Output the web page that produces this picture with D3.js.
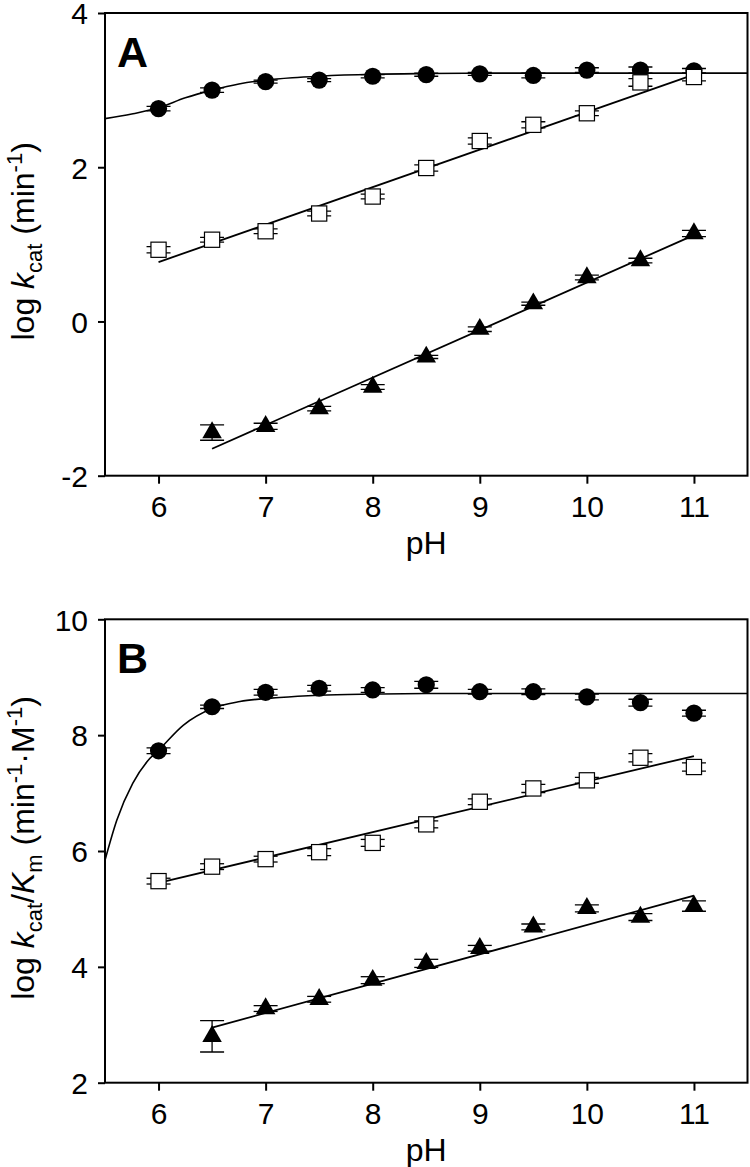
<!DOCTYPE html>
<html>
<head>
<meta charset="utf-8">
<script src="https://cdn.jsdelivr.net/npm/d3@7"></script>
<style>
  html, body { margin: 0; padding: 0; background: #fff; }
  svg { display: block; font-family: "Liberation Sans", Arial, sans-serif; }
</style>
</head>
<body>
<svg id="chart" width="750" height="1167"></svg>
<script>
// ---------- data ----------
const pHAll = [6, 6.5, 7, 7.5, 8, 8.5, 9, 9.5, 10, 10.5, 11];
const pHTri = [6.5, 7, 7.5, 8, 8.5, 9, 9.5, 10, 10.5, 11];
const xTicks = [6, 7, 8, 9, 10, 11];

// Panel A: log kcat
const aYTicks = [-2, 0, 2, 4];
const aCircle = [2.76, 3.00, 3.11, 3.13, 3.18, 3.20, 3.21, 3.19, 3.26, 3.26, 3.25];
const aCircleErr = [0.03, 0.03, 0.02, 0.02, 0.02, 0.02, 0.02, 0.03, 0.03, 0.04, 0.03];
const aSquare = [0.93, 1.06, 1.17, 1.40, 1.62, 1.99, 2.34, 2.55, 2.70, 3.10, 3.17];
const aSquareErr = [0.04, 0.03, 0.03, 0.03, 0.03, 0.04, 0.04, 0.04, 0.03, 0.05, 0.05];
const aTriangle = [-1.44, -1.36, -1.13, -0.85, -0.46, -0.10, 0.23, 0.57, 0.79, 1.14];
const aTriangleErr = [0.10, 0.04, 0.03, 0.03, 0.02, 0.03, 0.02, 0.03, 0.03, 0.04];
// fitted curves
const aCircleFitX = [5.5, 5.75, 6, 6.25, 6.5, 6.75, 7, 7.25, 7.5, 8, 8.5, 9, 11.5];
const aCircleFitY = [2.63, 2.69, 2.77, 2.90, 3.00, 3.08, 3.13, 3.16, 3.18, 3.205, 3.215, 3.22, 3.22];
const aSquareFitX = [6, 11];
const aSquareFitY = [0.77, 3.20];
const aTriangleFitX = [6.5, 11];
const aTriangleFitY = [-1.65, 1.12];

// Panel B: log kcat/Km
const bYTicks = [2, 4, 6, 8, 10];
const bCircle = [7.73, 8.49, 8.74, 8.81, 8.78, 8.87, 8.75, 8.75, 8.66, 8.56, 8.38];
const bCircleErr = [0.05, 0.03, 0.05, 0.05, 0.04, 0.06, 0.04, 0.05, 0.05, 0.06, 0.05];
const bSquare = [5.48, 5.73, 5.86, 5.98, 6.14, 6.46, 6.85, 7.08, 7.22, 7.61, 7.45];
const bSquareErr = [0.05, 0.05, 0.05, 0.06, 0.06, 0.06, 0.05, 0.07, 0.05, 0.07, 0.07];
const bTriangle = [2.80, 3.28, 3.44, 3.77, 4.06, 4.32, 4.69, 5.01, 4.86, 5.05];
const bTriangleErr = [0.27, 0.05, 0.05, 0.06, 0.07, 0.05, 0.05, 0.06, 0.06, 0.09];
const bCircleFitX = [5.5, 5.61, 5.76, 5.92, 6, 6.23, 6.5, 6.76, 7.13, 7.5, 8, 8.5, 11.5];
const bCircleFitY = [5.84, 6.53, 7.17, 7.60, 7.74, 8.17, 8.46, 8.58, 8.65, 8.69, 8.71, 8.72, 8.72];
const bSquareFitX = [6, 11];
const bSquareFitY = [5.45, 7.64];
const bTriangleFitX = [6.5, 11];
const bTriangleFitY = [2.95, 5.23];

// ---------- drawing ----------
const svg = d3.select("#chart");
const TICKFONT = 30;
const TITLEFONT = 32;
const SMALL = 22;
const left = 105, right = 747.5;
const x = d3.scaleLinear().domain([5.5, 11.5]).range([left, right]);

function zip(xs, ys, es) { return xs.map((v, i) => ({x: v, y: ys[i], e: es ? es[i] : 0})); }

function panel(cfg) {
  const y = d3.scaleLinear().domain(cfg.yDomain).range([cfg.bottom, cfg.top]);
  const g = svg.append("g");
  const clipId = "clip" + cfg.letter;
  svg.append("clipPath").attr("id", clipId).append("rect")
    .attr("x", left).attr("y", cfg.top).attr("width", right - left).attr("height", cfg.bottom - cfg.top);

  // axes
  const fmt = d => String(d);
  const xAxis = d3.axisBottom(x).tickValues(xTicks).tickSize(8).tickPadding(12).tickFormat(fmt);
  const gx = g.append("g").attr("transform", `translate(0,${cfg.bottom})`).call(xAxis);
  const yAxis = d3.axisLeft(y).tickValues(cfg.yTicks).tickSize(7).tickPadding(10).tickFormat(fmt);
  const gy = g.append("g").attr("transform", `translate(${left},0)`).call(yAxis);
  [gx, gy].forEach(a => {
    a.select(".domain").remove();
    a.selectAll("line").attr("stroke", "#000").attr("stroke-width", 2);
    a.selectAll("text").attr("font-size", TICKFONT).attr("fill", "#000")
      .attr("font-family", '"Liberation Sans", Arial, sans-serif');
  });
  gy.selectAll("text").attr("dy", "0.36em");
  gx.selectAll("text").attr("dy", "0.72em");

  // frame
  g.append("rect").attr("x", left).attr("y", cfg.top)
    .attr("width", right - left).attr("height", cfg.bottom - cfg.top)
    .attr("fill", "none").attr("stroke", "#000").attr("stroke-width", 2);

  const plot = g.append("g").attr("clip-path", `url(#${clipId})`);

  // fit lines
  const lineGen = (curve) => d3.line().x(d => x(d.x)).y(d => y(d.y)).curve(curve);
  cfg.fits.forEach(f => {
    plot.append("path").datum(zip(f.xs, f.ys))
      .attr("d", lineGen(f.curve || d3.curveLinear))
      .attr("fill", "none").attr("stroke", "#000").attr("stroke-width", f.w || 1.8);
  });

  // error bars (behind markers)
  const capHalf = 12;
  cfg.series.forEach(s => {
    const pts = zip(s.xs, s.ys, s.es);
    const eb = plot.append("g").attr("stroke", "#000").attr("stroke-width", 1.3);
    pts.forEach(p => {
      const y1 = y(p.y + p.e), y2 = y(p.y - p.e);
      eb.append("line").attr("x1", x(p.x)).attr("x2", x(p.x)).attr("y1", y1).attr("y2", y2);
      eb.append("line").attr("x1", x(p.x) - capHalf).attr("x2", x(p.x) + capHalf).attr("y1", y1).attr("y2", y1);
      eb.append("line").attr("x1", x(p.x) - capHalf).attr("x2", x(p.x) + capHalf).attr("y1", y2).attr("y2", y2);
    });
  });

  // markers
  cfg.series.forEach(s => {
    const pts = zip(s.xs, s.ys, s.es);
    const mg = g.append("g");
    if (s.shape === "circle") {
      mg.selectAll("circle").data(pts).join("circle")
        .attr("cx", d => x(d.x)).attr("cy", d => y(d.y)).attr("r", 8.6).attr("fill", "#000");
    } else if (s.shape === "square") {
      mg.selectAll("rect").data(pts).join("rect")
        .attr("x", d => x(d.x) - 7.6).attr("y", d => y(d.y) - 7.6)
        .attr("width", 15.2).attr("height", 15.2)
        .attr("fill", "#fff").attr("stroke", "#000").attr("stroke-width", 1.2);
    } else {
      const tri = d3.symbol().type(d3.symbolTriangle).size(165);
      mg.selectAll("path").data(pts).join("path")
        .attr("transform", d => `translate(${x(d.x)},${y(d.y)})`)
        .attr("d", tri).attr("fill", "#000");
    }
  });

  // panel letter
  g.append("text").attr("x", 117).attr("y", cfg.top + 54)
    .attr("font-size", 43).attr("font-weight", "bold").attr("fill", "#000").text(cfg.letter);

  // x label
  g.append("text").attr("x", (left + right) / 2).attr("y", cfg.bottom + 78)
    .attr("text-anchor", "middle").attr("font-size", TITLEFONT).attr("fill", "#000").text("pH");

  // y label
  const yl = g.append("text")
    .attr("transform", `translate(34,${(cfg.top + cfg.bottom) / 2 - 3}) rotate(-90)`)
    .attr("text-anchor", "middle").attr("font-size", TITLEFONT).attr("fill", "#000");
  cfg.yLabel(yl);
}

function tsub(t, s) { t.append("tspan").attr("font-size", SMALL).attr("dy", 8).text(s); }
function tsup(t, s) { t.append("tspan").attr("font-size", SMALL).attr("dy", -12).text(s); }

panel({
  letter: "A", top: 13, bottom: 475.7, yDomain: [-2, 4], yTicks: aYTicks,
  fits: [
    {xs: aCircleFitX, ys: aCircleFitY, curve: d3.curveMonotoneX, w: 1.6},
    {xs: aSquareFitX, ys: aSquareFitY},
    {xs: aTriangleFitX, ys: aTriangleFitY}
  ],
  series: [
    {xs: pHAll, ys: aCircle, es: aCircleErr, shape: "circle"},
    {xs: pHAll, ys: aSquare, es: aSquareErr, shape: "square"},
    {xs: pHTri, ys: aTriangle, es: aTriangleErr, shape: "triangle"}
  ],
  yLabel: t => {
    t.append("tspan").text("log ");
    t.append("tspan").attr("font-style", "italic").text("k");
    tsub(t, "cat");
    t.append("tspan").attr("dy", -8).text(" (min");
    tsup(t, "-1");
    t.append("tspan").attr("dy", 12).text(")");
  }
});

panel({
  letter: "B", top: 619.3, bottom: 1082.7, yDomain: [2, 10], yTicks: bYTicks,
  fits: [
    {xs: bCircleFitX, ys: bCircleFitY, curve: d3.curveMonotoneX, w: 1.6},
    {xs: bSquareFitX, ys: bSquareFitY},
    {xs: bTriangleFitX, ys: bTriangleFitY}
  ],
  series: [
    {xs: pHAll, ys: bCircle, es: bCircleErr, shape: "circle"},
    {xs: pHAll, ys: bSquare, es: bSquareErr, shape: "square"},
    {xs: pHTri, ys: bTriangle, es: bTriangleErr, shape: "triangle"}
  ],
  yLabel: t => {
    t.append("tspan").text("log ");
    t.append("tspan").attr("font-style", "italic").text("k");
    tsub(t, "cat");
    t.append("tspan").attr("dy", -8).text("/");
    t.append("tspan").attr("font-style", "italic").text("K");
    tsub(t, "m");
    t.append("tspan").attr("dy", -8).text(" (min");
    tsup(t, "-1");
    t.append("tspan").attr("dy", 12).text("·M");
    tsup(t, "-1");
    t.append("tspan").attr("dy", 12).text(")");
  }
});
</script>
</body>
</html>
